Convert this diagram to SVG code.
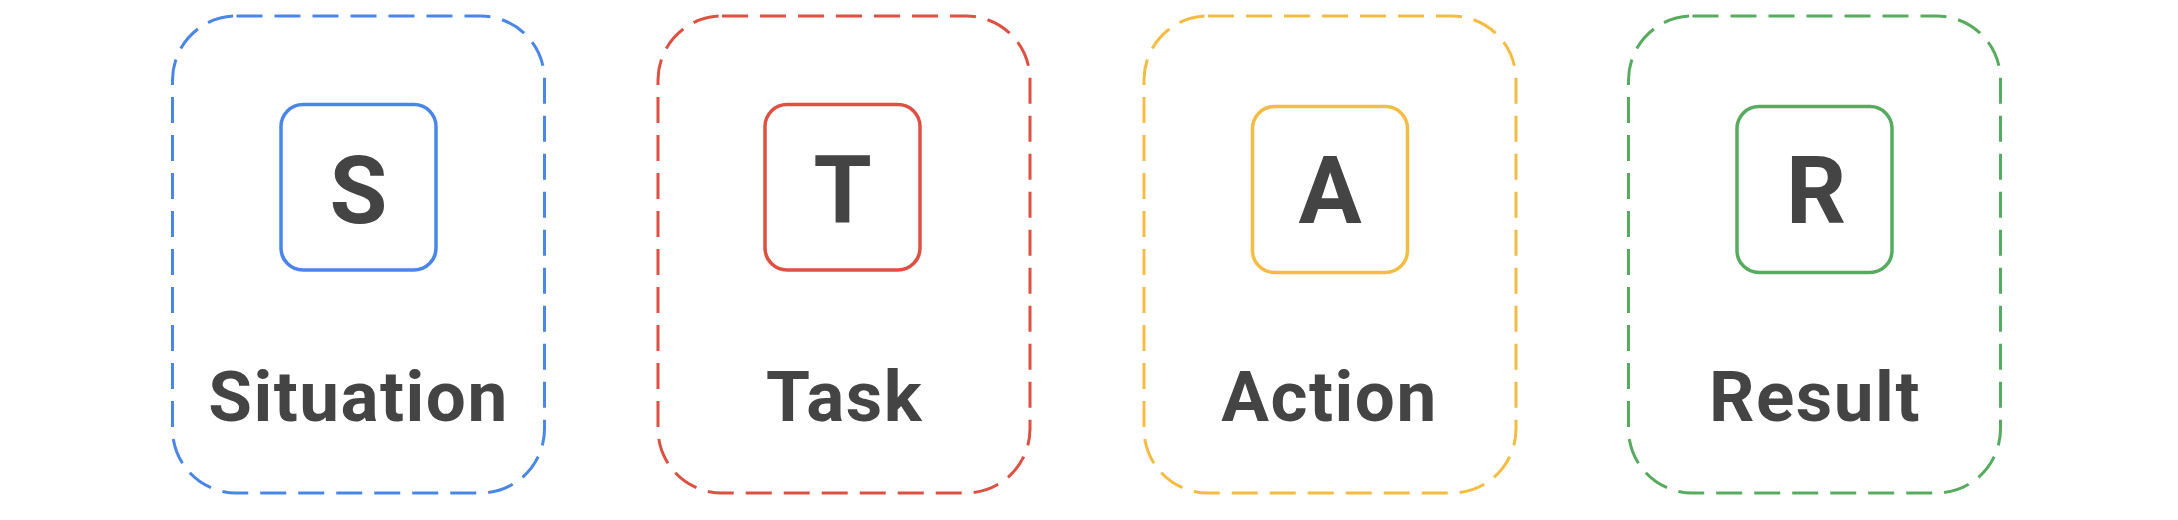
<svg xmlns="http://www.w3.org/2000/svg" width="2178" height="520" viewBox="0 0 2178 520">
<style>
.outer{fill:none;stroke-width:3;stroke-dasharray:26 12;}
.inner{fill:#fff;stroke-width:3.5;}
.letter{font-family:Roboto,"Liberation Sans",sans-serif;font-weight:700;font-size:94px;fill:#444;text-anchor:middle;}
.label{font-family:Roboto,"Liberation Sans",sans-serif;font-weight:700;font-size:71px;fill:#444;text-anchor:middle;letter-spacing:1.5px;}
.blue{stroke:#4a86e8;}
.red{stroke:#dd5143;}
.yellow{stroke:#f4bc42;}
.green{stroke:#57ab5e;}
</style>
<rect width="2178" height="520" fill="#fff"/>
<g id="situation">
<rect class="outer blue" x="172.5" y="16" width="372" height="477" rx="64"/>
<rect class="inner blue" x="281" y="104.5" width="155" height="165.5" rx="22"/>
<text class="letter" x="358.5" y="222.5">S</text>
<text class="label" x="358.5" y="420.5">Situation</text>
</g>
<g id="task">
<rect class="outer red" x="658" y="16" width="372" height="477" rx="64"/>
<rect class="inner red" x="765" y="104.5" width="155" height="165.5" rx="22"/>
<text class="letter" x="842.5" y="222.5">T</text>
<text class="label" x="844.5" y="420.5">Task</text>
</g>
<g id="action">
<rect class="outer yellow" x="1144" y="16" width="372" height="477" rx="64"/>
<rect class="inner yellow" x="1252.5" y="106.5" width="155" height="166" rx="22"/>
<text class="letter" x="1330" y="222.5">A</text>
<text class="label" x="1329.5" y="420.5">Action</text>
</g>
<g id="result">
<rect class="outer green" x="1628.5" y="16" width="372" height="477" rx="64"/>
<rect class="inner green" x="1737" y="106.5" width="155" height="166" rx="22"/>
<text class="letter" x="1816" y="222.5">R</text>
<text class="label" x="1815" y="420.5">Result</text>
</g>
<g id="connectors"/>
</svg>
